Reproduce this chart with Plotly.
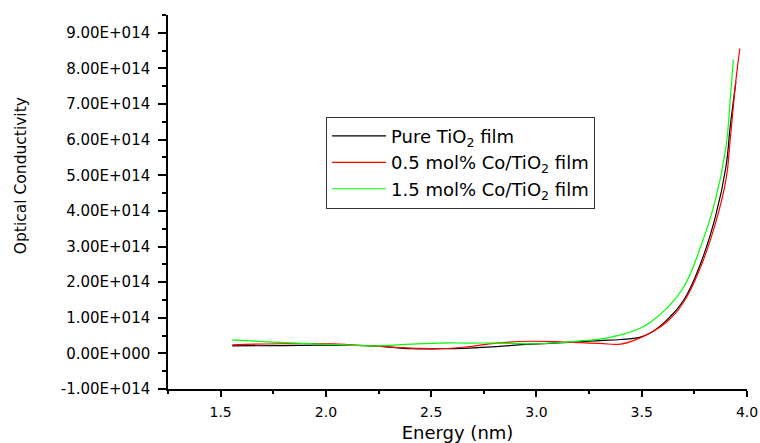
import plotly.graph_objects as go

# Photon energy grid (x) and optical conductivity (y) for each film
energy_pure = [1.555, 1.78, 2.03, 2.22, 2.41, 2.54, 2.68, 2.81, 2.97, 3.13, 3.21, 3.30,
               3.40, 3.49, 3.54, 3.62, 3.70, 3.78, 3.85, 3.90, 3.92, 3.947]
sigma_pure = [0.21e14, 0.22e14, 0.23e14, 0.21e14, 0.13e14, 0.13e14, 0.15e14, 0.19e14,
              0.26e14, 0.30e14, 0.33e14, 0.36e14, 0.39e14, 0.45e14, 0.57e14, 0.94e14,
              1.50e14, 2.53e14, 3.84e14, 5.24e14, 6.36e14, 7.62e14]

energy_co05 = [1.555, 1.78, 2.03, 2.22, 2.41, 2.54, 2.68, 2.81, 2.97, 3.13, 3.21, 3.30,
               3.40, 3.47, 3.54, 3.62, 3.70, 3.78, 3.85, 3.90, 3.92, 3.948, 3.966]
sigma_co05 = [0.24e14, 0.27e14, 0.27e14, 0.21e14, 0.15e14, 0.13e14, 0.19e14, 0.29e14,
              0.34e14, 0.32e14, 0.30e14, 0.28e14, 0.26e14, 0.38e14, 0.57e14, 0.89e14,
              1.45e14, 2.43e14, 3.65e14, 4.87e14, 5.99e14, 7.70e14, 8.56e14]

energy_co15 = [1.555, 1.78, 2.03, 2.22, 2.41, 2.54, 2.68, 2.81, 2.97, 3.13, 3.21, 3.30,
               3.40, 3.49, 3.54, 3.62, 3.70, 3.78, 3.85, 3.90, 3.92, 3.935]
sigma_co15 = [0.38e14, 0.31e14, 0.25e14, 0.21e14, 0.26e14, 0.29e14, 0.29e14, 0.29e14,
              0.27e14, 0.31e14, 0.35e14, 0.40e14, 0.52e14, 0.70e14, 0.87e14, 1.27e14,
              1.87e14, 3.00e14, 4.31e14, 5.80e14, 7.11e14, 8.25e14]

series_names = ["Pure TiO<sub>2</sub> film",
                "0.5 mol% Co/TiO<sub>2</sub> film",
                "1.5 mol% Co/TiO<sub>2</sub> film"]
series_colors = ["#000000", "#ff0000", "#00ff00"]

x_ticks = [1.5, 2.0, 2.5, 3.0, 3.5, 4.0]
y_ticks = [-1e14, 0, 1e14, 2e14, 3e14, 4e14, 5e14, 6e14, 7e14, 8e14, 9e14]


def origin_sci(v):
    """Format like Origin: 9.00E+014, 0.00E+000."""
    if v == 0:
        return "0.00E+000"
    s = f"{v:.2E}"
    mant, exp = s.split("E")
    sign = exp[0]
    return f"{mant}E{sign}{int(exp[1:]):03d}"


y_ticktext = [origin_sci(v) for v in y_ticks]
x_ticktext = [f"{v:.1f}" for v in x_ticks]

FONT = "DejaVu Sans"

fig = go.Figure()
for xs, ys, name, col in zip([energy_pure, energy_co05, energy_co15],
                             [sigma_pure, sigma_co05, sigma_co15],
                             series_names, series_colors):
    fig.add_trace(go.Scatter(
        x=xs, y=ys, mode="lines", name=name,
        line=dict(color=col, width=1.2, shape="spline", smoothing=1.3),
        hoverinfo="skip",
    ))

# vertical axis caption, placed a little above the middle of the axis
fig.add_annotation(
    text="Optical Conductivity", textangle=-90,
    xref="paper", yref="paper", x=-0.255, y=0.57,
    xanchor="center", yanchor="middle", showarrow=False,
    font=dict(family=FONT, size=15.5, color="black"),
)

fig.update_layout(
    width=760, height=443,
    margin=dict(l=168, r=13, t=15, b=54),
    paper_bgcolor="white", plot_bgcolor="white",
    font=dict(family=FONT, color="black"),
    showlegend=True,
    legend=dict(
        x=0.273, y=0.728, xanchor="left", yanchor="top",
        bgcolor="white", bordercolor="#333333", borderwidth=1,
        font=dict(family=FONT, size=18, color="black"),
        tracegroupgap=0, itemwidth=54,
    ),
    xaxis=dict(
        range=[1.25, 4.0], tickvals=x_ticks, ticktext=x_ticktext,
        showline=True, linecolor="black", linewidth=1.5, mirror=False,
        ticks="outside", ticklen=6, tickwidth=1.5, tickcolor="black",
        minor=dict(ticks="outside", ticklen=3.5, tickwidth=1.5, tickcolor="black", dtick=0.25, tick0=1.25),
        showgrid=False, zeroline=False, automargin=False,
        tickfont=dict(family=FONT, size=14),
        ticklabelstandoff=3,
        title=dict(text="Energy (nm)", font=dict(family=FONT, size=18), standoff=14),
    ),
    yaxis=dict(
        range=[-1e14, 9.5e14], tickvals=y_ticks, ticktext=y_ticktext,
        showline=True, linecolor="black", linewidth=1.5, mirror=False,
        ticks="outside", ticklen=8, tickwidth=1.5, tickcolor="black",
        minor=dict(ticks="outside", ticklen=4, tickwidth=1.5, tickcolor="black", dtick=0.5e14, tick0=-1e14),
        showgrid=False, zeroline=False, automargin=False,
        tickfont=dict(family=FONT, size=15),
        ticklabelstandoff=5,
    ),
)

fig.write_html("out.html", config={"displayModeBar": False})
